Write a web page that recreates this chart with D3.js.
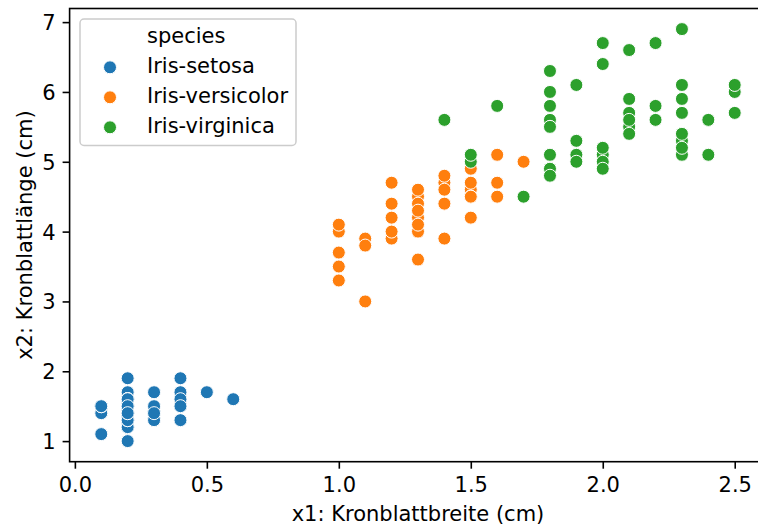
<!DOCTYPE html>
<html><head><meta charset="utf-8">
<script src="https://cdn.jsdelivr.net/npm/d3@7"></script>
<style>
body{margin:0;background:#fff}
svg{display:block}
text{font-family:"DejaVu Sans",sans-serif;fill:#000}
</style>
</head><body><svg id="c" width="758" height="525"></svg>
<script>
const speciesNames = ["Iris-setosa","Iris-versicolor","Iris-virginica"];
const speciesColors = ["#1f77b4","#ff7f0e","#2ca02c"];
const xTicks = [0.0,0.5,1.0,1.5,2.0,2.5];
const yTicks = [1,2,3,4,5,6,7];
const xLabel = "x1: Kronblattbreite (cm)";
const yLabel = "x2: Kronblattlänge (cm)";
const legendTitle = "species";

const setosaWidth = [0.2,0.2,0.2,0.2,0.2,0.4,0.3,0.2,0.2,0.1,0.2,0.2,0.1,0.1,0.2,0.4,0.4,0.3,0.3,0.3,0.2,0.4,0.2,0.5,0.2,0.2,0.4,0.2,0.2,0.2,0.2,0.4,0.1,0.2,0.1,0.2,0.2,0.1,0.2,0.2,0.3,0.3,0.2,0.6,0.4,0.3,0.2,0.2,0.2,0.2];
const setosaLength = [1.4,1.4,1.3,1.5,1.4,1.7,1.4,1.5,1.4,1.5,1.5,1.6,1.4,1.1,1.2,1.5,1.3,1.4,1.7,1.5,1.7,1.5,1.0,1.7,1.9,1.6,1.6,1.5,1.4,1.6,1.6,1.5,1.5,1.4,1.5,1.2,1.3,1.5,1.3,1.5,1.3,1.3,1.3,1.6,1.9,1.4,1.6,1.4,1.5,1.4];
const versicolorWidth = [1.4,1.5,1.5,1.3,1.5,1.3,1.6,1.0,1.3,1.4,1.0,1.5,1.0,1.4,1.3,1.4,1.5,1.0,1.5,1.1,1.8,1.3,1.5,1.2,1.3,1.4,1.4,1.7,1.5,1.0,1.1,1.0,1.2,1.6,1.5,1.6,1.5,1.3,1.3,1.3,1.2,1.4,1.2,1.0,1.3,1.2,1.3,1.3,1.1,1.3];
const versicolorLength = [4.7,4.5,4.9,4.0,4.6,4.5,4.7,3.3,4.6,3.9,3.5,4.2,4.0,4.7,3.6,4.4,4.5,4.1,4.5,3.9,4.8,4.0,4.9,4.7,4.3,4.4,4.8,5.0,4.5,3.5,3.8,3.7,3.9,5.1,4.5,4.5,4.7,4.4,4.1,4.0,4.4,4.6,4.0,3.3,4.2,4.2,4.2,4.3,3.0,4.1];
const virginicaWidth = [2.5,1.9,2.1,1.8,2.2,2.1,1.7,1.8,1.8,2.5,2.0,1.9,2.1,2.0,2.4,2.3,1.8,2.2,2.3,1.5,2.3,2.0,2.0,1.8,2.1,1.8,1.8,1.8,2.1,1.6,1.9,2.0,2.2,1.5,1.4,2.3,2.4,1.8,1.8,2.1,2.4,2.3,1.9,2.3,2.5,2.3,1.9,2.0,2.3,1.8];
const virginicaLength = [6.0,5.1,5.9,5.6,5.8,6.6,4.5,6.3,5.8,6.1,5.1,5.3,5.5,5.0,5.1,5.3,5.5,6.7,6.9,5.0,5.7,4.9,6.7,4.9,5.7,6.0,4.8,4.9,5.6,5.8,6.1,6.4,5.6,5.1,5.6,6.1,5.6,5.5,4.8,5.4,5.6,5.1,5.1,5.9,5.7,5.2,5.0,5.2,5.4,5.1];

const widths = [setosaWidth, versicolorWidth, virginicaWidth];
const lengths = [setosaLength, versicolorLength, virginicaLength];
const points = [];
widths.forEach((ws, s) => ws.forEach((w, i) => points.push({s, x: w, y: lengths[s][i]})));

const FS = 21;
const svg = d3.select("#c");
const L = 69.6, R = 766.4, T = 8.5, B = 461.7;
const x = d3.scaleLinear().domain([-0.02, 2.62]).range([L, R]);
const y = d3.scaleLinear().domain([0.705, 7.195]).range([B, T]);

// points
svg.append("g").selectAll("circle").data(points).join("circle")
  .attr("cx", d => x(d.x)).attr("cy", d => y(d.y)).attr("r", 6.5)
  .attr("fill", d => speciesColors[d.s]).attr("stroke", "#fff").attr("stroke-width", 1);

// axes
const gx = svg.append("g").attr("transform", `translate(0,${B})`)
  .call(d3.axisBottom(x).tickValues(xTicks).tickFormat(d3.format(".1f")).tickSize(7).tickSizeOuter(0));
gx.select(".domain").remove();
gx.selectAll(".tick line").attr("stroke", "#000").attr("stroke-width", 1.6);
gx.selectAll(".tick text").attr("y", 30.6).attr("dy", 0).attr("font-size", FS)
  .attr("font-family", "DejaVu Sans").attr("fill", "#000");

const gy = svg.append("g").attr("transform", `translate(${L},0)`)
  .call(d3.axisLeft(y).tickValues(yTicks).tickFormat(d3.format("d")).tickSize(7).tickSizeOuter(0));
gy.select(".domain").remove();
gy.selectAll(".tick line").attr("stroke", "#000").attr("stroke-width", 1.6);
gy.selectAll(".tick text").attr("x", -14).attr("dy", 7.4).attr("font-size", FS)
  .attr("font-family", "DejaVu Sans").attr("fill", "#000");

// spines
svg.append("rect").attr("x", L).attr("y", T).attr("width", R - L).attr("height", B - T)
  .attr("fill", "none").attr("stroke", "#000").attr("stroke-width", 1.6);

// labels
svg.append("text").attr("x", (L + R) / 2).attr("y", 521).attr("text-anchor", "middle")
  .attr("font-size", FS).text(xLabel);
svg.append("text").attr("transform", `translate(32,${(T + B) / 2}) rotate(-90)`)
  .attr("text-anchor", "middle").attr("font-size", FS).text(yLabel);

// legend
const lg = svg.append("g");
lg.append("rect").attr("x", 80).attr("y", 19).attr("width", 216).attr("height", 126.5)
  .attr("rx", 4).attr("fill", "#fff").attr("fill-opacity", 0.8)
  .attr("stroke", "#cccccc").attr("stroke-width", 1.5);
lg.append("text").attr("x", 147).attr("y", 43.3).attr("font-size", FS).text(legendTitle);
speciesNames.forEach((n, i) => {
  const by = 73.3 + i * 30;
  lg.append("circle").attr("cx", 110).attr("cy", by - 6).attr("r", 6.5)
    .attr("fill", speciesColors[i]).attr("stroke", "#fff").attr("stroke-width", 1);
  lg.append("text").attr("x", 147).attr("y", by).attr("font-size", FS).text(n);
});
</script></body></html>
